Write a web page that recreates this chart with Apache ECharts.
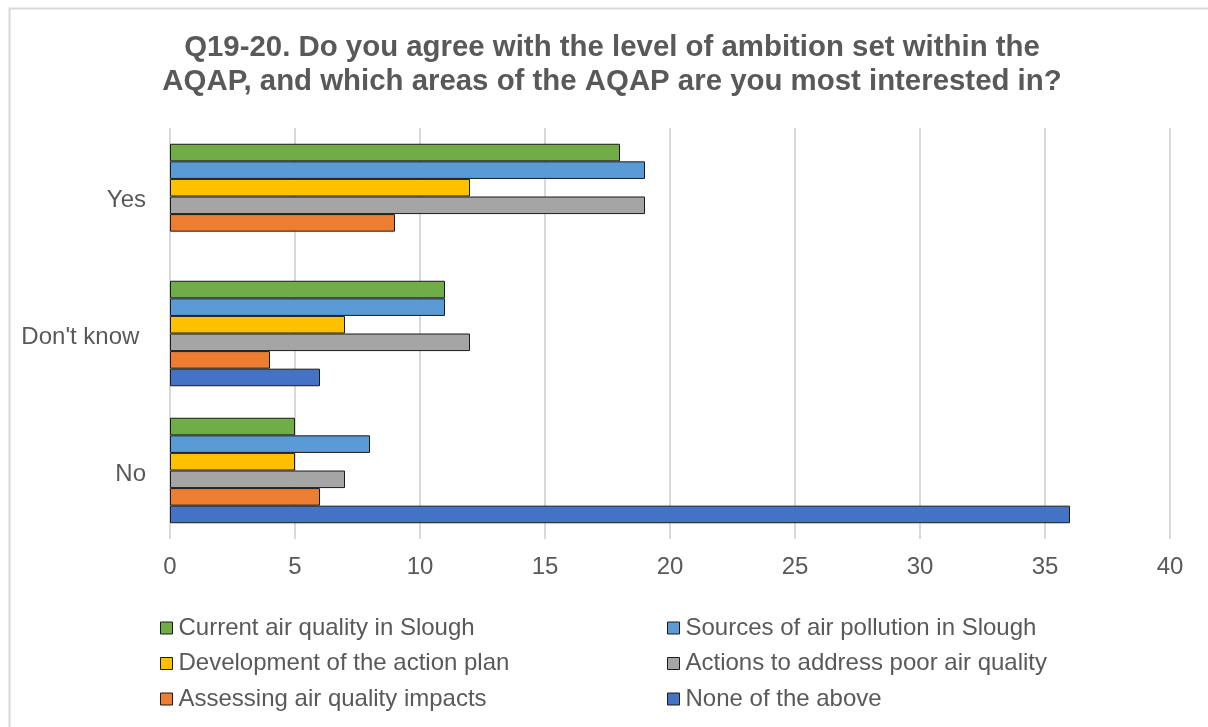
<!DOCTYPE html>
<html>
<head>
<meta charset="utf-8">
<script src="https://cdn.jsdelivr.net/npm/echarts@6/dist/echarts.min.js"></script>
<style>
  html, body { margin: 0; padding: 0; background: #fff; }
  #chart { width: 1208px; height: 727px; }
</style>
</head>
<body>
<div id="chart"></div>
<script>
// Survey responses grouped by answer (top to bottom: Yes, Don't know, No)
const categories = ['Yes', "Don't know ", 'No'];
const seriesNames = [
  'Current air quality in Slough',
  'Sources of air pollution in Slough',
  'Development of the action plan',
  'Actions to address poor air quality',
  'Assessing air quality impacts',
  'None of the above'
];
const currentAirQuality = [18, 11, 5];
const sourcesOfPollution = [19, 11, 8];
const developmentOfPlan = [12, 7, 5];
const actionsToAddress = [19, 12, 7];
const assessingImpacts = [9, 4, 6];
const noneOfTheAbove = ['-', 6, 36];
const xTicks = [0, 5, 10, 15, 20, 25, 30, 35, 40];

const colors = ['#70AD47', '#5B9BD5', '#FFC000', '#A5A5A5', '#ED7D31', '#4472C4'];
const values = [currentAirQuality, sourcesOfPollution, developmentOfPlan,
                actionsToAddress, assessingImpacts, noneOfTheAbove];

const textColor = '#595959';
const font = 'Liberation Sans, Arial, sans-serif';

const chart = echarts.init(document.getElementById('chart'));

const series = seriesNames.map((name, i) => ({
  name: name,
  type: 'bar',
  data: values[i],
  barGap: '0%',
  barCategoryGap: '23%',
  itemStyle: { color: colors[i], borderColor: '#1a1a1a', borderWidth: 1 },
  emphasis: { disabled: true },
  animation: false
}));

const legendCommon = {
  orient: 'vertical',
  top: 611,
  itemWidth: 12,
  itemHeight: 12,
  itemGap: 11.5,
  icon: 'rect',
  selectedMode: false,
  itemStyle: { borderColor: '#1a1a1a', borderWidth: 1 },
  textStyle: { color: textColor, fontSize: 24, fontFamily: font, padding: [0, 0, 0, 1] }
};

chart.setOption({
  backgroundColor: '#fff',
  animation: false,
  title: {
    text: 'Q19-20. Do you agree with the level of ambition set within the\nAQAP, and which areas of the AQAP are you most interested in?',
    left: 607,
    top: 26,
    textAlign: 'center',
    textStyle: {
      color: textColor,
      fontSize: 29.4,
      fontWeight: 'bold',
      fontFamily: font,
      lineHeight: 34
    }
  },
  legend: [
    Object.assign({}, legendCommon, { left: 155, data: [seriesNames[0], seriesNames[2], seriesNames[4]] }),
    Object.assign({}, legendCommon, { left: 662, data: [seriesNames[1], seriesNames[3], seriesNames[5]] })
  ],
  grid: { left: 170, right: 38, top: 128, height: 411, containLabel: false },
  xAxis: {
    type: 'value',
    min: xTicks[0],
    max: xTicks[xTicks.length - 1],
    interval: xTicks[1] - xTicks[0],
    axisLine: { show: false },
    axisTick: { show: false },
    axisLabel: { color: textColor, fontSize: 24, fontFamily: font, margin: 16 },
    splitLine: { show: true, lineStyle: { color: '#D9D9D9', width: 2 } }
  },
  yAxis: {
    type: 'category',
    data: categories,
    inverse: true,
    axisLine: { show: false },
    axisTick: { show: false },
    axisLabel: {
      margin: 24,
      formatter: v => '{c|' + v + '}',
      rich: { c: { color: textColor, fontSize: 24, fontFamily: font, padding: [8, 0, 0, 0] } }
    }
  },
  graphic: [{
    type: 'rect',
    shape: { x: 9.5, y: 8.5, width: 1300, height: 800 },
    style: { fill: 'none', stroke: '#D9D9D9', lineWidth: 2 },
    silent: true,
    z: -1
  }],
  series: series
});
</script>
</body>
</html>
